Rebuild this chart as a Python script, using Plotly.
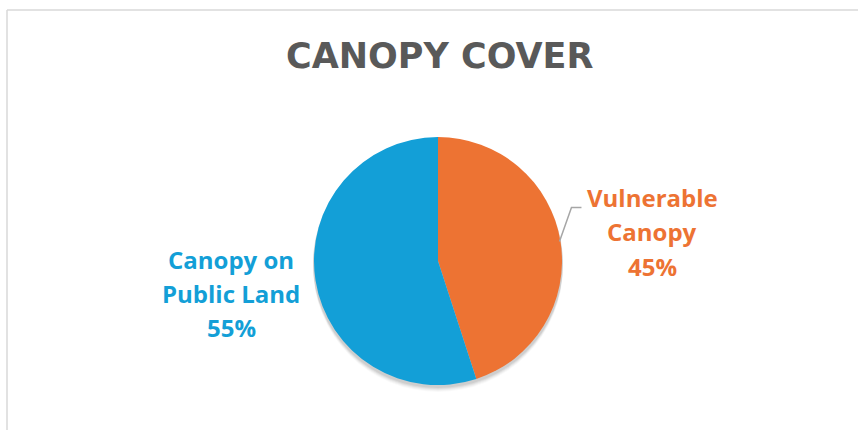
import math
import plotly.graph_objects as go

W, H = 858, 430

title = "CANOPY COVER"
categories = ["Vulnerable Canopy", "Canopy on Public Land"]
label_lines = [["Vulnerable", "Canopy"], ["Canopy on", "Public Land"]]
values = [45, 55]
colors = ["#ED7333", "#139FD7"]

# pie geometry (pixels)
cx, cy, r = 438, 261, 124

fig = go.Figure()
fig.add_trace(go.Pie(
    labels=categories, values=values, sort=False, direction="clockwise",
    rotation=0, marker=dict(colors=colors, line=dict(width=0)),
    textinfo="none", hoverinfo="label+percent", showlegend=False,
    domain=dict(x=[(cx - r) / W, (cx + r) / W], y=[(H - cy - r) / H, (H - cy + r) / H]),
))

def px(x):
    return x / W

def py(y):
    return (H - y) / H

shapes = []
# soft shadow beneath pie
for off, a in [(6, 0.025), (5, 0.03), (4, 0.04), (3, 0.05), (2, 0.06)]:
    rr = r + 1
    shapes.append(dict(type="circle", xref="paper", yref="paper", layer="below",
                       x0=px(cx - rr), x1=px(cx + rr), y0=py(cy + off + rr), y1=py(cy + off - rr),
                       fillcolor=f"rgba(0,0,0,{a})", line=dict(width=0)))
# chart area border (top and left)
shapes.append(dict(type="line", xref="paper", yref="paper", x0=px(7), x1=1, y0=py(10), y1=py(10),
                   line=dict(color="#D9D9D9", width=1.5)))
shapes.append(dict(type="line", xref="paper", yref="paper", x0=px(7), x1=px(7), y0=py(10), y1=0,
                   line=dict(color="#D9D9D9", width=1.5)))

# leader line for the orange slice
total = sum(values)
mid = values[0] / 2 / total * 2 * math.pi
ex, ey = cx + r * math.sin(mid) - 1, cy - r * math.cos(mid)
kx, ky = ex + 12, ey - 34
shapes.append(dict(type="path", xref="paper", yref="paper",
                   path=f"M {px(ex)} {py(ey)} L {px(kx)} {py(ky)} L {px(kx + 10)} {py(ky)}",
                   line=dict(color="#A6A6A6", width=1.5)))

annotations = [dict(text=f"<b>{title}</b>", x=px(439), y=py(56), xref="paper", yref="paper",
                    showarrow=False, xanchor="center", yanchor="middle",
                    font=dict(family="DejaVu Sans", size=35, color="#595959"))]

label_pos = [(652, 198), (231, 259)]
line_gap = 34
for lines, v, c, (lx, ly) in zip(label_lines, values, colors, label_pos):
    pct = round(v / total * 100)
    for i, s in enumerate(lines + [f"{pct}%"]):
        annotations.append(dict(text=f"<b>{s}</b>", x=px(lx), y=py(ly + i * line_gap),
                                xref="paper", yref="paper", showarrow=False,
                                xanchor="center", yanchor="middle",
                                font=dict(family="Open Sans", size=24, color=c)))

fig.update_layout(width=W, height=H, margin=dict(l=0, r=0, t=0, b=0),
                  paper_bgcolor="white", plot_bgcolor="white",
                  shapes=shapes, annotations=annotations)
fig.write_html("out.html", config={"displayModeBar": False},
               post_script="document.body.style.margin='0';")
